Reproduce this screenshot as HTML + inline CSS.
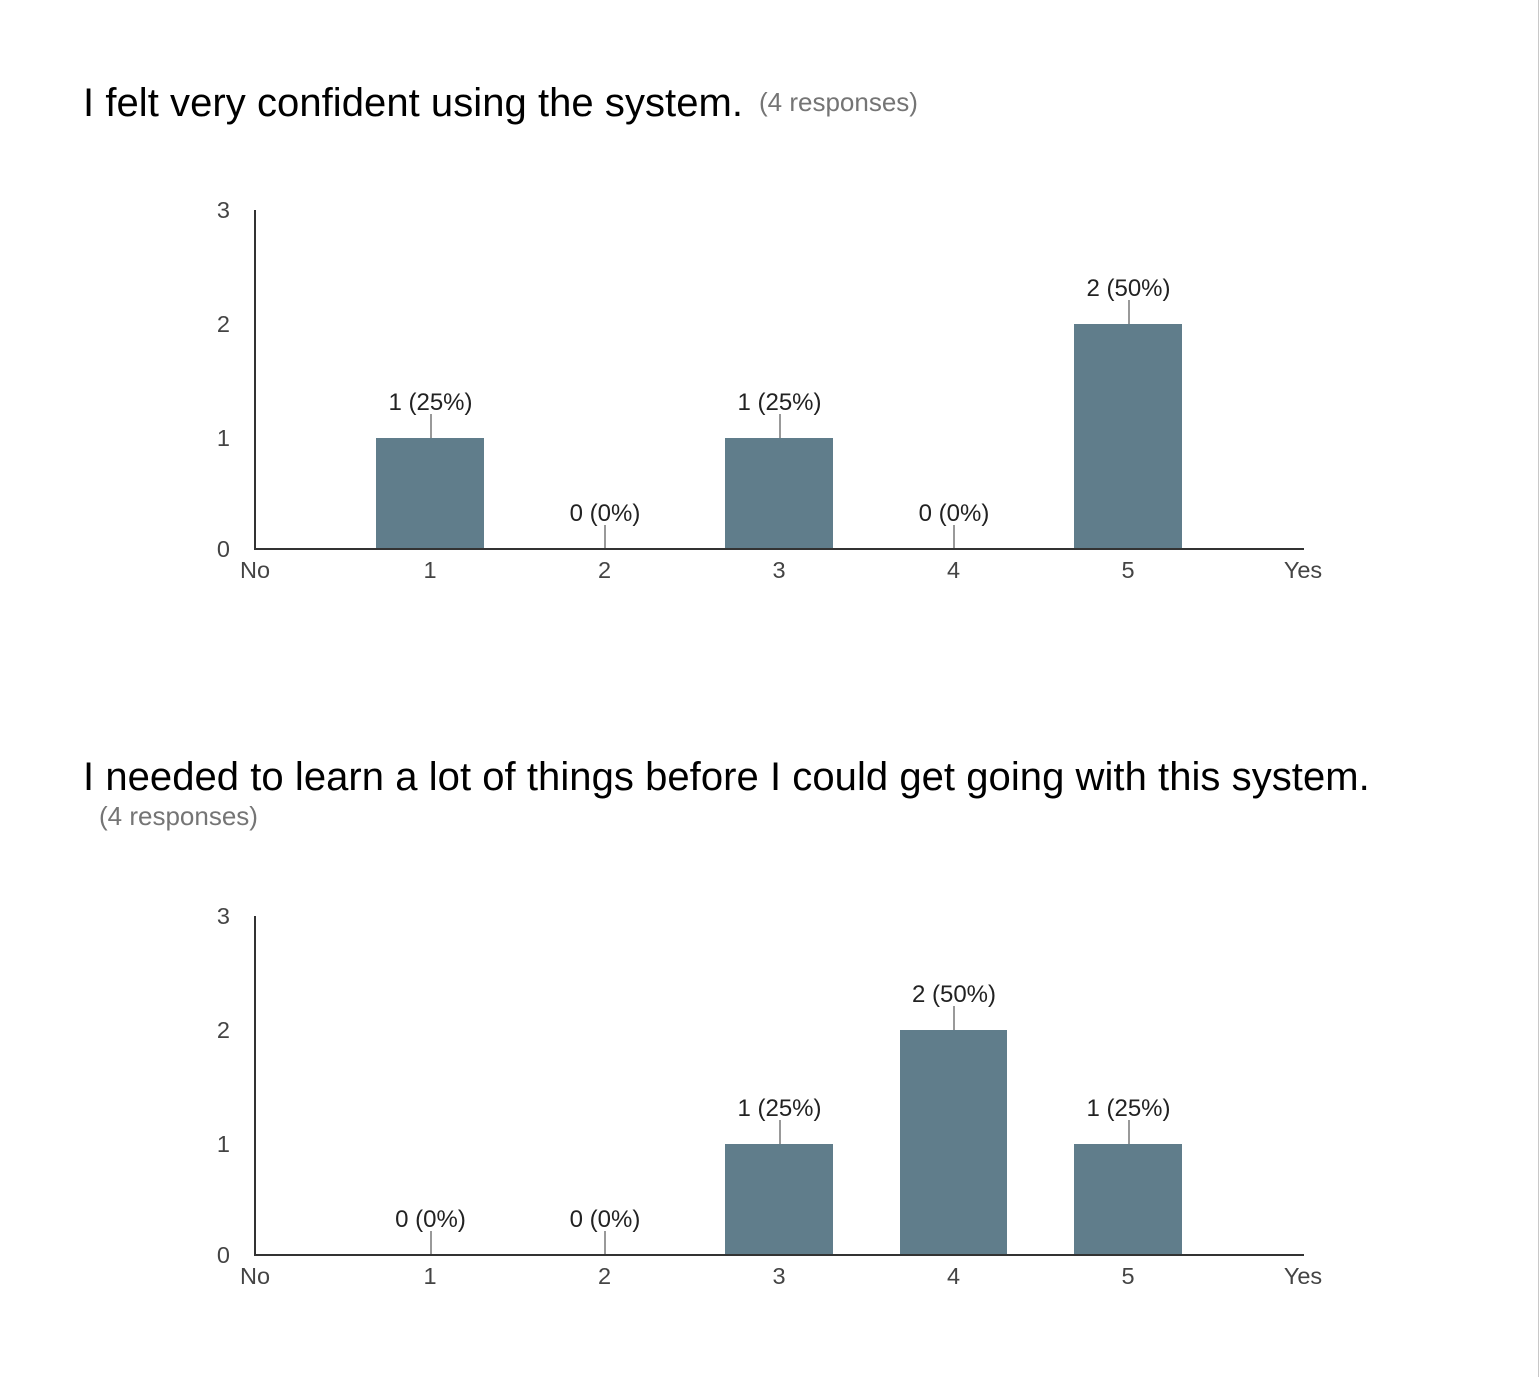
<!DOCTYPE html>
<html lang="en">
<head>
<meta charset="utf-8">
<title>Survey responses</title>
<style>
html,body{margin:0;padding:0;background:#fff;}
body{width:1539px;height:1377px;overflow:hidden;position:relative;font-family:"Liberation Sans",Arial,sans-serif;}
#edge{position:absolute;left:1538px;top:0;width:1px;height:1377px;background:#c8c8c8;}
.title{position:absolute;font-size:40px;line-height:44px;color:#000;white-space:nowrap;letter-spacing:0.05px;}
.count{position:absolute;font-size:26px;line-height:30px;color:#757575;white-space:nowrap;}
svg{position:absolute;left:0;top:0;}
svg text{font-family:"Liberation Sans",Arial,sans-serif;font-size:23.5px;}
svg text.value{font-size:24px;}
</style>
</head>
<body>
<div id="edge"></div>
<div class="title" style="left:83px;top:81px">I felt very confident using the system.</div>
<div class="count" style="left:759px;top:87px">(4 responses)</div>
<div class="title" style="left:83px;top:755px">I needed to learn a lot of things before I could get going with this system.</div>
<div class="count" style="left:99px;top:801px">(4 responses)</div>
<svg id="chart" width="1539" height="1377" xmlns="http://www.w3.org/2000/svg"></svg>
<script>
const categories = ['1', '2', '3', '4', '5'];
const scaleEnds = ['No', 'Yes'];
const yTicks = [0, 1, 2, 3];
const valuesQ1 = [1, 0, 1, 0, 2];
const valuesQ2 = [0, 0, 1, 2, 1];
const labelsQ1 = ['1 (25%)', '0 (0%)', '1 (25%)', '0 (0%)', '2 (50%)'];
const labelsQ2 = ['0 (0%)', '0 (0%)', '1 (25%)', '2 (50%)', '1 (25%)'];

const svg = document.getElementById('chart');
const NS = 'http://www.w3.org/2000/svg';

function add(tag, attrs, text, name) {
  const el = document.createElementNS(NS, tag);
  for (const k in attrs) el.setAttribute(k, attrs[k]);
  if (text !== undefined) el.textContent = text;
  
  
  svg.appendChild(el);
  return el;
}

function drawChart(values, labels, baseY, prefix) {
  const left = 255, right = 1304, unit = 114, barHalf = 53.5, span = 339;
  const top = baseY - span;
  const maxTick = yTicks[yTicks.length - 1];
  const xPos = i => 255.5 + 174.5 * (i + 1);
  const yPos = v => Math.min(baseY, top + (maxTick - v) * unit);

  yTicks.forEach(t => {
    add('text', {x: 230, y: yPos(t) + 8, 'text-anchor': 'end', fill: '#444'}, String(t), prefix + '-y-tick-' + t);
  });

  values.forEach((v, i) => {
    const cx = xPos(i);
    const barTop = yPos(v);
    if (v > 0) {
      const x0 = Math.floor(cx - barHalf);
      const x1 = Math.ceil(cx + barHalf);
      add('rect', {x: x0, y: barTop, width: x1 - x0, height: baseY - barTop, fill: '#607d8b'}, undefined, prefix + '-bar-' + categories[i]);
    }
    const lx = Math.round(cx + 0.8);
    add('line', {x1: lx, x2: lx, y1: barTop - 24, y2: barTop, stroke: '#999', 'stroke-width': 2}, undefined, prefix + '-leader-' + categories[i]);
    add('text', {x: cx + 0.5, y: barTop - 28, 'text-anchor': 'middle', fill: '#222', class: 'value'}, labels[i], prefix + '-value-label-' + categories[i]);
    add('text', {x: cx, y: baseY + 29, 'text-anchor': 'middle', fill: '#444'}, categories[i], prefix + '-x-tick-' + categories[i]);
  });

  add('text', {x: left, y: baseY + 29, 'text-anchor': 'middle', fill: '#444'}, scaleEnds[0], prefix + '-x-label-no');
  add('text', {x: right - 1, y: baseY + 29, 'text-anchor': 'middle', fill: '#444'}, scaleEnds[1], prefix + '-x-label-yes');

  add('line', {x1: left, x2: left, y1: top, y2: baseY + 1, stroke: '#333', 'stroke-width': 2}, undefined, prefix + '-y-axis');
  add('line', {x1: left, x2: right, y1: baseY, y2: baseY, stroke: '#333', 'stroke-width': 2}, undefined, prefix + '-x-axis');
}

drawChart(valuesQ1, labelsQ1, 549, 'q1');
drawChart(valuesQ2, labelsQ2, 1255, 'q2');
</script>
</body>
</html>
